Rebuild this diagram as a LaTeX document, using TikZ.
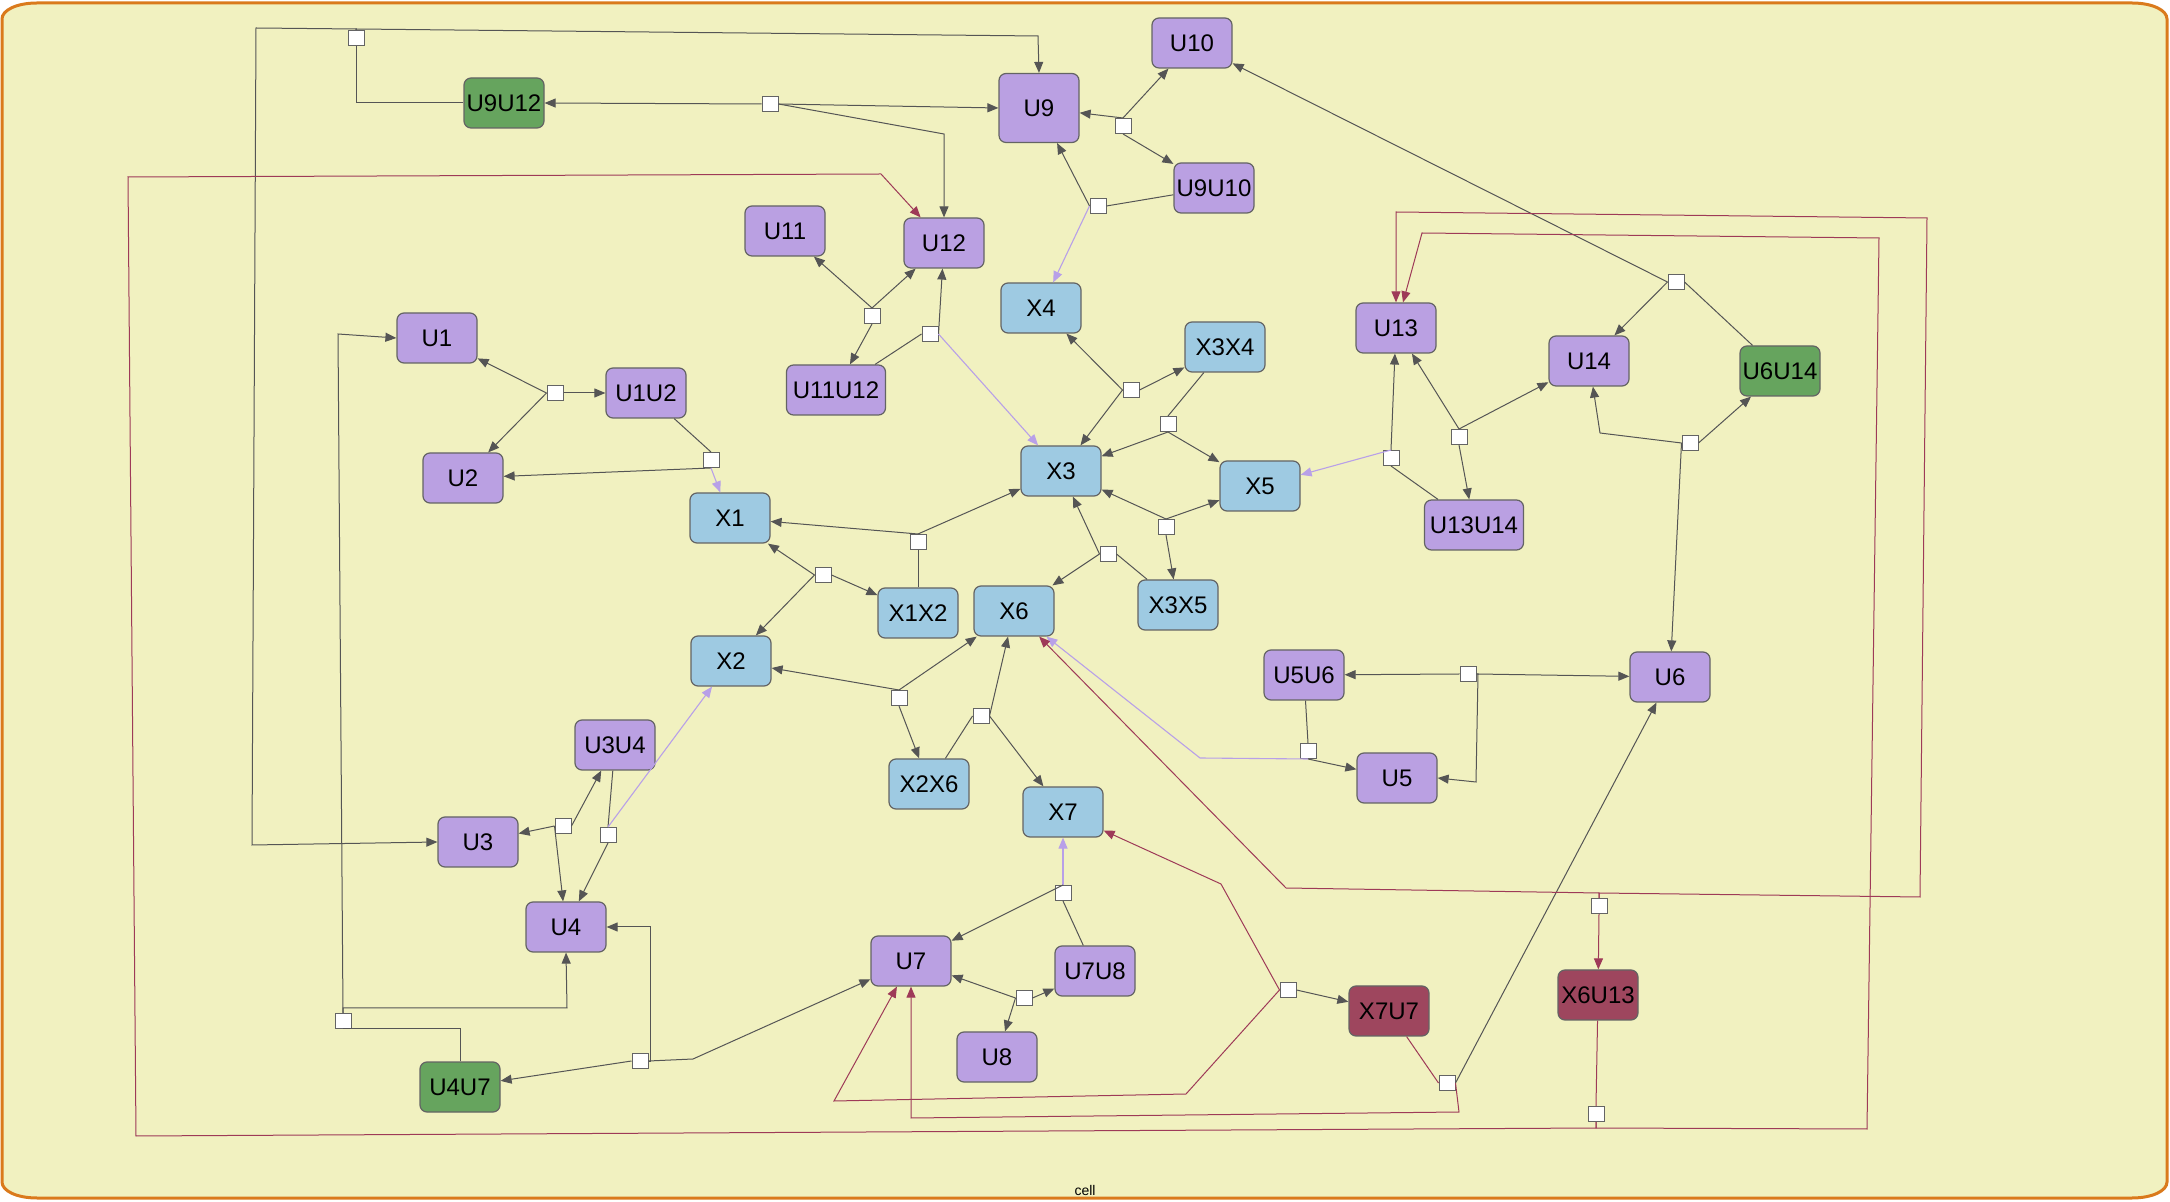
\documentclass[tikz,border=0pt]{standalone}
\usepackage{fontspec}
\setmainfont{Liberation Sans}
\usetikzlibrary{arrows.meta}

\definecolor{cellfill}{RGB}{241,241,192}
\definecolor{cellline}{RGB}{218,122,28}
\definecolor{ufill}{RGB}{186,160,226}
\definecolor{xfill}{RGB}{158,202,226}
\definecolor{gfill}{RGB}{102,164,94}
\definecolor{rfill}{RGB}{158,70,94}
\definecolor{nodeline}{RGB}{100,100,100}
\definecolor{edgecol}{RGB}{85,85,85}
\definecolor{lilaccol}{RGB}{184,160,232}
\definecolor{winecol}{RGB}{158,58,88}

\tikzset{
  species/.style={draw=nodeline, line width=0.6pt, rounded corners=3.5pt,
    minimum width=40pt, minimum height=25pt, inner sep=0pt,
    font=\fontsize{12}{14}\selectfont},
  uspec/.style={species, fill=ufill},
  xspec/.style={species, fill=xfill},
  gspec/.style={species, fill=gfill},
  rspec/.style={species, fill=rfill},
  widebox/.style={minimum width=49.5pt},
  rsq/.style={draw=nodeline, fill=white, line width=0.5pt,
    minimum width=8pt, minimum height=7.5pt, inner sep=0pt},
  conn/.style={draw=edgecol, line width=0.5pt},
  lilacln/.style={draw=lilaccol, line width=0.55pt},
  wineln/.style={draw=winecol, line width=0.5pt},
  arr/.style={-{Triangle[length=5.5pt,width=4.5pt]}},
}

\begin{document}
\begin{tikzpicture}[x=0.5pt,y=-0.5pt]
\useasboundingbox (0,0) rectangle (2170,1202);
% cell compartment
\draw[cellline, fill=cellfill, line width=1.5pt]
  (37,3) -- (2132,3) .. controls (2152,3) and (2167,10) .. (2167,19)
  -- (2167,1182) .. controls (2167,1191) and (2152,1198) .. (2132,1198)
  -- (37,1198) .. controls (17,1198) and (2,1191) .. (2,1182)
  -- (2,19) .. controls (2,10) and (17,3) .. cycle;
\node[font=\fontsize{7}{8}\selectfont] (celllbl) at (1085,1190) {cell};

% species
\node[gspec] (U9U12) at (504,103) {U9U12};
\node[uspec, minimum height=34.5pt] (U9) at (1039,108) {U9};
\node[uspec] (U10) at (1192,43) {U10};
\node[uspec] (U9U10) at (1214,188) {U9U10};
\node[uspec] (U11) at (785,231) {U11};
\node[uspec] (U12) at (944,243) {U12};
\node[uspec,widebox] (U11U12) at (836,390) {U11U12};
\node[uspec] (U1) at (437,338) {U1};
\node[uspec] (U1U2) at (646,393) {U1U2};
\node[uspec] (U2) at (463,478) {U2};
\node[xspec] (X4) at (1041,308) {X4};
\node[xspec] (X3X4) at (1225,347) {X3X4};
\node[xspec] (X3) at (1061,471) {X3};
\node[xspec] (X5) at (1260,486) {X5};
\node[uspec] (U13) at (1396,328) {U13};
\node[uspec] (U14) at (1589,361) {U14};
\node[gspec] (U6U14) at (1780,371) {U6U14};
\node[uspec,widebox] (U13U14) at (1474,525) {U13U14};
\node[xspec] (X1) at (730,518) {X1};
\node[xspec] (X1X2) at (918,613) {X1X2};
\node[xspec] (X2) at (731,661) {X2};
\node[xspec] (X6) at (1014,611) {X6};
\node[xspec] (X3X5) at (1178,605) {X3X5};
\node[xspec] (X2X6) at (929,784) {X2X6};
\node[xspec] (X7) at (1063,812) {X7};
\node[uspec] (U5U6) at (1304,675) {U5U6};
\node[uspec] (U5) at (1397,778) {U5};
\node[uspec] (U6) at (1670,677) {U6};
\node[uspec] (U3U4) at (615,745) {U3U4};
\node[uspec] (U3) at (478,842) {U3};
\node[uspec] (U4) at (566,927) {U4};
\node[gspec] (U4U7) at (460,1087) {U4U7};
\node[uspec] (U7) at (911,961) {U7};
\node[uspec] (U7U8) at (1095,971) {U7U8};
\node[uspec] (U8) at (997,1057) {U8};
\node[rspec] (X7U7) at (1389,1011) {X7U7};
\node[rspec] (X6U13) at (1598,995) {X6U13};

% reaction squares
\node[rsq] (r1) at (356,38) {};
\node[rsq] (r2) at (770,104) {};
\node[rsq] (r3) at (1123,126) {};
\node[rsq] (r4) at (1098,206) {};
\node[rsq] (r5) at (872,316) {};
\node[rsq] (r6) at (930,334) {};
\node[rsq] (r7) at (555,393) {};
\node[rsq] (r8) at (711,460) {};
\node[rsq] (r9) at (1131,390) {};
\node[rsq] (r10) at (1168,424) {};
\node[rsq] (r11) at (918,542) {};
\node[rsq] (r12) at (823,575) {};
\node[rsq] (r13) at (1108,554) {};
\node[rsq] (r14) at (1166,527) {};
\node[rsq] (r15) at (899,698) {};
\node[rsq] (r16) at (981,716) {};
\node[rsq] (r17) at (1063,893) {};
\node[rsq] (r18) at (1024,998) {};
\node[rsq] (r19) at (563,826) {};
\node[rsq] (r20) at (608,835) {};
\node[rsq] (r21) at (343,1021) {};
\node[rsq] (r22) at (640,1061) {};
\node[rsq] (r23) at (1308,751) {};
\node[rsq] (r24) at (1468,674) {};
\node[rsq] (r25) at (1391,458) {};
\node[rsq] (r26) at (1459,437) {};
\node[rsq] (r27) at (1690,443) {};
\node[rsq] (r28) at (1676,282) {};
\node[rsq] (r29) at (1288,990) {};
\node[rsq] (r30) at (1447,1083) {};
\node[rsq] (r31) at (1599,906) {};
\node[rsq] (r32) at (1596,1114) {};

% top: U9U12 splits to U9 and U3
\draw[conn] (U9U12.west) -| (r1.south);
\draw[conn,arr] (r1.north) -- (356,29) -- (1038,36) -- (U9.north);
\draw[conn,arr] (r1.north) -- (356,29) -- (256,28) -- (252,845) -- (U3.west); % long way round
\draw[conn,arr] (r2.west) -- (U9U12.east);
\draw[conn,arr] (r2.east) -- (U9.west);
\draw[conn,arr] (r2.east) -- (944,134) -- (U12.north);
% U9 / U10
\draw[conn,arr] (r3.north) -- (U9);
\draw[conn,arr] (r3.north) -- (U10);
\draw[conn,arr] (r3.south) -- (U9U10);
\draw[conn] (U9U10) -- (r4.east);
\draw[conn,arr] (r4.west) -- (U9);
\draw[lilacln,arr] (r4.west) -- (X4);
% U11 / U12
\draw[conn,arr] (r5.north) -- (U11);
\draw[conn,arr] (r5.north) -- (U12);
\draw[conn,arr] (r5.south) -- (U11U12);
\draw[conn] (U11U12) -- (r6.west);
\draw[conn,arr] (r6.east) -- (U12);
\draw[lilacln,arr] (r6.east) -- (X3);
% U1 / U2
\draw[conn,arr] (r7.west) -- (U1);
\draw[conn,arr] (r7.west) -- (U2);
\draw[conn,arr] (r7.east) -- (U1U2.west);
\draw[conn] (U1U2) -- (r8.north);
\draw[conn,arr] (r8.south) -- (U2);
\draw[lilacln,arr] (r8.south) -- (X1);
% X3 / X4 / X5
\draw[conn,arr] (r9.west) -- (X4);
\draw[conn,arr] (r9.west) -- (X3);
\draw[conn,arr] (r9.east) -- (X3X4);
\draw[conn] (X3X4) -- (r10.north);
\draw[conn,arr] (r10.south) -- (X3);
\draw[conn,arr] (r10.south) -- (X5);
% X1 / X2 / X3
\draw[conn] (X1X2) -- (r11.south);
\draw[conn,arr] (r11.north) -- (X1);
\draw[conn,arr] (r11.north) -- (X3);
\draw[conn,arr] (r12.west) -- (X1);
\draw[conn,arr] (r12.west) -- (X2);
\draw[conn,arr] (r12.east) -- (X1X2);
% X3 / X5 / X6
\draw[conn,arr] (r13.west) -- (X3);
\draw[conn,arr] (r13.west) -- (X6);
\draw[conn] (X3X5) -- (r13.east);
\draw[conn,arr] (r14.north) -- (X3);
\draw[conn,arr] (r14.north) -- (X5);
\draw[conn,arr] (r14.south) -- (X3X5);
% X2 / X6 / X7
\draw[conn,arr] (r15.north) -- (X2);
\draw[conn,arr] (r15.north) -- (X6);
\draw[conn,arr] (r15.south) -- (X2X6);
\draw[conn] (X2X6) -- (r16.west);
\draw[conn,arr] (r16.east) -- (X6);
\draw[conn,arr] (r16.east) -- (X7);
% U7 / U8
\draw[lilacln,arr] (r17.north) -- (X7);
\draw[conn,arr] (r17.north) -- (U7);
\draw[conn] (U7U8) -- (r17.south);
\draw[conn,arr] (r18.west) -- (U7);
\draw[conn,arr] (r18.west) -- (U8);
\draw[conn,arr] (r18.east) -- (U7U8);
% U3 / U4
\draw[conn,arr] (r19.west) -- (U3);
\draw[conn,arr] (r19.west) -- (U4);
\draw[conn,arr] (r19.east) -- (U3U4);
\draw[conn] (U3U4) -- (r20.north);
\draw[conn,arr] (r20.south) -- (U4);
\draw[lilacln,arr] (r20.north) -- (X2);
% U4U7 splits to U1 and U4
\draw[conn,arr] (r21.north) |- (567,1008) -- (U4.south);
\draw[conn,arr] (r21.north) -- (338,334) -- (U1.west);
\draw[conn] (U4U7.north) |- (r21.south);
\draw[conn,arr] (r22.west) -- (U4U7);
\draw[conn,arr] (r22.east) -- (650,1061) |- (U4.east);
\draw[conn,arr] (r22.east) -- (693,1059) -- (U7);
% U5 / U6
\draw[conn] (U5U6) -- (r23.north);
\draw[conn,arr] (r23.south) -- (U5);
\draw[lilacln,arr] (r23.south) -- (1200,758) -- (X6);
\draw[conn,arr] (r24.west) -- (U5U6);
\draw[conn,arr] (r24.east) -- (U6);
\draw[conn,arr] (r24.east) -- (1478,674) -- (1476,782) -- (U5.east);
% U13 / U14
\draw[conn,arr] (r25.north) -- (U13);
\draw[lilacln,arr] (r25.north) -- (X5);
\draw[conn] (U13U14) -- (r25.south);
\draw[conn,arr] (r26.north) -- (U13);
\draw[conn,arr] (r26.north) -- (U14);
\draw[conn,arr] (r26.south) -- (U13U14);
% U6 / U14 / U10
\draw[conn,arr] (r27.west) -- (1600,433) -- (U14);
\draw[conn,arr] (r27.west) -- (U6);
\draw[conn,arr] (r27.east) -- (U6U14);
\draw[conn,arr] (r28.west) -- (U10);
\draw[conn,arr] (r28.west) -- (U14);
\draw[conn] (U6U14) -- (r28.east);
% X7U7
\draw[conn,arr] (r29.east) -- (X7U7);
\draw[wineln,arr] (r29.west) -- (1221,884) -- (X7);
\draw[wineln,arr] (r29.west) -- (1186,1094) -- (834,1101) -- (U7);
\draw[wineln] (X7U7) -- (r30.west);
\draw[wineln,arr] (r30.east) -- (1459,1112) -- (911,1118) -- (U7.south);
\draw[conn,arr] (r30.east) -- (U6);
% X6U13
\draw[wineln,arr] (r31.south) -- (X6U13);
\draw[wineln,arr] (r31.north) -- (1599,893) -- (1286,888) -- (X6);
\draw[wineln,arr] (r31.north) -- (1599,893) -- (1920,897) -- (1927,218) -- (1396,212) -- (U13.north);
\draw[wineln] (X6U13) -- (r32.north);
\draw[wineln,arr] (r32.south) -- (1596,1128) -- (1867,1129) -- (1879,238) -- (1422,233) -- (U13);
\draw[wineln,arr] (r32.south) -- (1596,1128) -- (136,1136) -- (128,177) -- (881,174) -- (U12); % outer loop
\end{tikzpicture}
\end{document}
